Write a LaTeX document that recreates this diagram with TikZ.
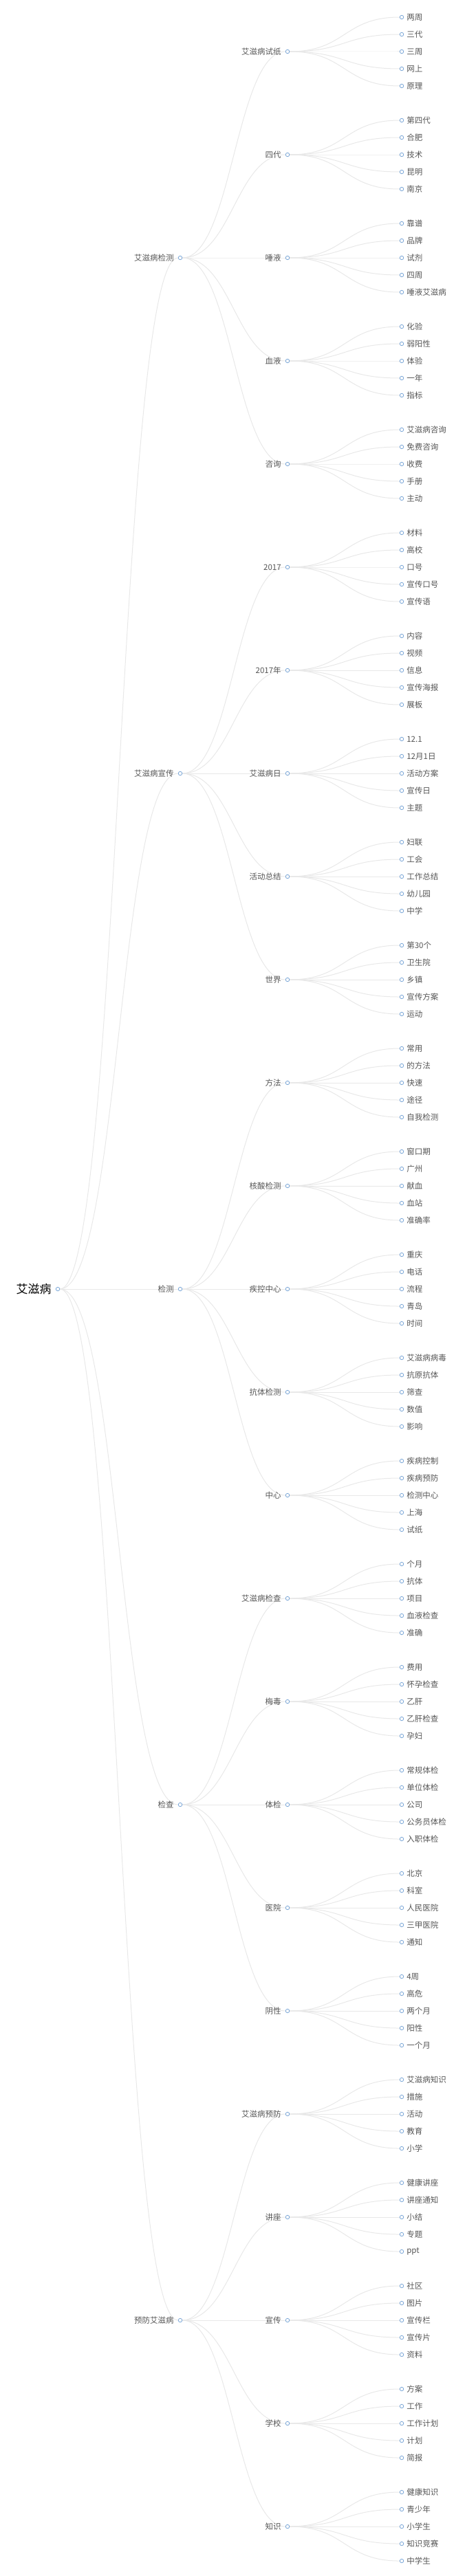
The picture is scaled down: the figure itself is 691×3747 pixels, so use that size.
\documentclass[tikz,border=0pt]{standalone}
\usepackage{fontspec}
\setmainfont{Noto Sans CJK SC}
\usetikzlibrary{backgrounds}
\definecolor{lk}{HTML}{E8E8E8}
\definecolor{dt}{HTML}{7BA7D7}
\definecolor{tx}{HTML}{555555}
\tikzset{
 dot/.style={circle,draw=dt,fill=white,line width=0.8pt,inner sep=0pt,minimum size=5.5pt},
 lbl/.style={text=tx,font=\fontsize{11.5}{12}\selectfont,inner sep=0pt},
 link/.style={draw=lk,line width=1pt}
}
\newcommand\grp[4]{%
 \pgfmathsetmacro\yy{75+150*#1}
 \node[dot] (m#1) at (418,\yy) {};
 \node[lbl,anchor=east] at ([xshift=-6pt]m#1.west) {#3};
 \begin{scope}[on background layer]\draw[link] (#2) .. controls +(75,0) and +(-75,0) .. (m#1);\end{scope}
 \foreach \t [count=\j] in {#4} {
  \pgfmathsetmacro\yl{\yy+25*(\j-3)}
  \node[dot] (l#1-\j) at (584,\yl) {};
  \node[lbl,anchor=west] at ([xshift=4pt]l#1-\j.east) {\t};
  \begin{scope}[on background layer]\draw[link] (m#1) .. controls +(85,0) and +(-85,0) .. (l#1-\j);\end{scope}
 }
}
\begin{document}
\begin{tikzpicture}[x=1pt,y=-1pt]
\useasboundingbox (0,0) rectangle (691,3747);
\node[dot] (root) at (84,1875) {};
\node[text=black,font=\fontsize{17}{18}\selectfont,inner sep=0pt,anchor=east] at ([xshift=-6pt]root.west) {艾滋病};
\foreach \n/\y/\t in {a/375/艾滋病检测,b/1125/艾滋病宣传,c/1875/检测,d/2625/检查,e/3375/预防艾滋病}{
 \node[dot] (\n) at (262,\y) {};
 \node[lbl,anchor=east] at ([xshift=-6pt]\n.west) {\t};
 \begin{scope}[on background layer]\draw[link] (root) .. controls +(90,0) and +(-90,0) .. (\n);\end{scope}
}
\grp{0}{a}{艾滋病试纸}{两周,三代,三周,网上,原理}
\grp{1}{a}{四代}{第四代,合肥,技术,昆明,南京}
\grp{2}{a}{唾液}{靠谱,品牌,试剂,四周,唾液艾滋病}
\grp{3}{a}{血液}{化验,弱阳性,体验,一年,指标}
\grp{4}{a}{咨询}{艾滋病咨询,免费咨询,收费,手册,主动}
\grp{5}{b}{2017}{材料,高校,口号,宣传口号,宣传语}
\grp{6}{b}{2017年}{内容,视频,信息,宣传海报,展板}
\grp{7}{b}{艾滋病日}{12.1,12月1日,活动方案,宣传日,主题}
\grp{8}{b}{活动总结}{妇联,工会,工作总结,幼儿园,中学}
\grp{9}{b}{世界}{第30个,卫生院,乡镇,宣传方案,运动}
\grp{10}{c}{方法}{常用,的方法,快速,途径,自我检测}
\grp{11}{c}{核酸检测}{窗口期,广州,献血,血站,准确率}
\grp{12}{c}{疾控中心}{重庆,电话,流程,青岛,时间}
\grp{13}{c}{抗体检测}{艾滋病病毒,抗原抗体,筛查,数值,影响}
\grp{14}{c}{中心}{疾病控制,疾病预防,检测中心,上海,试纸}
\grp{15}{d}{艾滋病检查}{个月,抗体,项目,血液检查,准确}
\grp{16}{d}{梅毒}{费用,怀孕检查,乙肝,乙肝检查,孕妇}
\grp{17}{d}{体检}{常规体检,单位体检,公司,公务员体检,入职体检}
\grp{18}{d}{医院}{北京,科室,人民医院,三甲医院,通知}
\grp{19}{d}{阴性}{4周,高危,两个月,阳性,一个月}
\grp{20}{e}{艾滋病预防}{艾滋病知识,措施,活动,教育,小学}
\grp{21}{e}{讲座}{健康讲座,讲座通知,小结,专题,ppt}
\grp{22}{e}{宣传}{社区,图片,宣传栏,宣传片,资料}
\grp{23}{e}{学校}{方案,工作,工作计划,计划,简报}
\grp{24}{e}{知识}{健康知识,青少年,小学生,知识竞赛,中学生}
\end{tikzpicture}
\end{document}
